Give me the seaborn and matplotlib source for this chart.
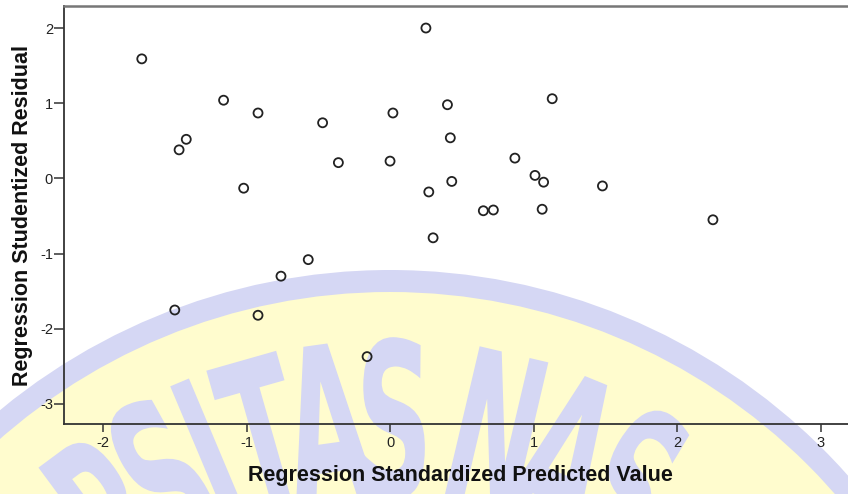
import numpy as np
import matplotlib
matplotlib.use("Agg")
import matplotlib.pyplot as plt
import seaborn as sns
from matplotlib.patches import Circle, PathPatch
from matplotlib.textpath import TextPath
from matplotlib.font_manager import FontProperties
from matplotlib.transforms import Affine2D

# standardized predicted value vs studentized residual
predicted = [-1.73, -1.16, -0.92, -1.47, -1.42, -1.02,
             0.25, -0.47, 0.02, 0.40, 1.13, 0.42, -0.36, 0.00, 0.87,
             1.01, 1.07, 0.27, 0.43, 0.65, 0.72, 1.06, 0.30,
             1.48, 2.25,
             -0.57, -0.76, -1.50, -0.92, -0.16]
residual = [1.59, 1.04, 0.87, 0.38, 0.52, -0.13,
            2.00, 0.74, 0.87, 0.98, 1.06, 0.54, 0.21, 0.23, 0.27,
            0.04, -0.05, -0.18, -0.04, -0.43, -0.42, -0.41, -0.79,
            -0.10, -0.55,
            -1.08, -1.30, -1.75, -1.82, -2.37]

x_ticks = [-2, -1, 0, 1, 2, 3]
y_ticks = [-3, -2, -1, 0, 1, 2]

W, H = 848, 494
plt.rcParams['font.family'] = ['Liberation Sans', 'DejaVu Sans']
plt.rcParams['axes.unicode_minus'] = False

fig = plt.figure(figsize=(W / 100, H / 100), dpi=100)
fig.patch.set_facecolor('white')

# watermark (university logo) in pixel coords, y going up
bg = fig.add_axes([0, 0, 1, 1], zorder=0)
bg.set_xlim(0, W)
bg.set_ylim(0, H)
bg.axis('off')
blue = '#d5d7f4'
yellow = '#fffcce'
cx, cy = 390, H - 883
bg.add_patch(Circle((cx, cy), 613, color=blue, lw=0))
bg.add_patch(Circle((cx, cy), 591, color=yellow, lw=0))

fp = FontProperties(family='DejaVu Sans', weight='bold')
letters = [('R', -36.5), ('S', -29), ('I', -22.8), ('T', -15.9), ('A', -7.9),
           ('S', 0.5), ('N', 13.2), ('A', 22.3), ('S', 31.0)]
r_top = 543
for ch, ang in letters:
    tp = TextPath((0, 0), ch, size=1, prop=fp)
    ext = tp.get_extents()
    xm = (ext.x0 + ext.x1) / 2
    th = np.deg2rad(ang)
    px = cx + r_top * np.sin(th)
    py = cy + r_top * np.cos(th)
    tr = (Affine2D().translate(-xm, -0.729).scale(108, 215)
          .rotate_deg(-ang).translate(px, py))
    bg.add_patch(PathPatch(tr.transform_path(tp), color=blue, lw=0))

# main scatter
ax = fig.add_axes([64 / W, 1 - 424 / H, 1 - 64 / W + 0.002, (424 - 6) / H], zorder=1)
ax.set_facecolor('none')
sns.scatterplot(x=predicted, y=residual, ax=ax, marker='o', s=42,
                facecolors='none', edgecolor='#222222', linewidth=1.3)

ax.set_xlim(-2.272, 3.203)
ax.set_ylim(-3.266, 2.293)
ax.set_xticks(x_ticks)
ax.set_yticks(y_ticks)
ax.tick_params(axis='both', direction='out', width=1.1,
               color='#333333', labelsize=10.5, labelcolor='#222222')
ax.tick_params(axis='x', length=6, pad=2.5)
ax.tick_params(axis='y', length=7, pad=1)

ax.spines['right'].set_visible(False)
ax.spines['top'].set_color('#777777')
ax.spines['top'].set_linewidth(1.8)
for s in ['left', 'bottom']:
    ax.spines[s].set_color('#333333')
    ax.spines[s].set_linewidth(1.3)

ax.set_xlabel('Regression Standardized Predicted Value', fontsize=15.5,
              fontweight='bold', color='#111111')
ax.set_ylabel('Regression Studentized Residual', fontsize=15.5,
              fontweight='bold', color='#111111')
ax.xaxis.set_label_coords(0.505, -0.099)
ax.yaxis.set_label_coords(-0.040, 0.5)

fig.savefig('out.png', dpi=100)
